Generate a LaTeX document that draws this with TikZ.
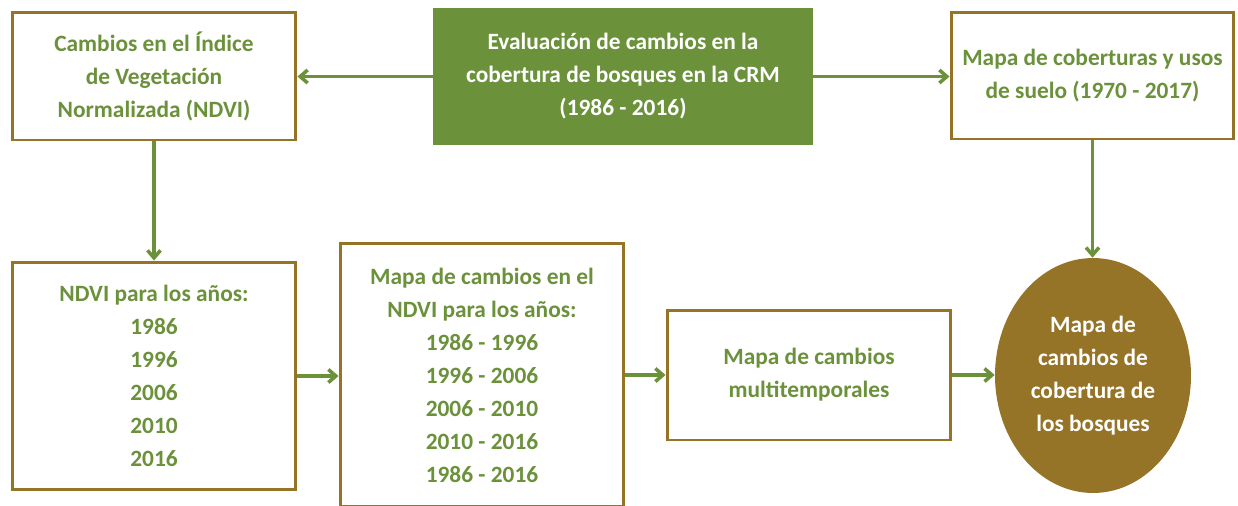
\documentclass[tikz,border=0pt]{standalone}
\usepackage{fontspec}
\setmainfont{Carlito}
\usepackage{tikz}
\usetikzlibrary{arrows.meta,positioning,shapes.geometric}
\definecolor{verde}{HTML}{6B913B}
\definecolor{cafe}{HTML}{957327}

\begin{document}
\begin{tikzpicture}[x=0.02cm, y=-0.02cm,
  font=\fontsize{13.3}{18.8}\selectfont\bfseries,
  caja/.style={draw=cafe, line width=1.7pt, fill=white, text=verde, align=center, inner sep=0pt},
  titulo/.style={fill=verde, text=white, align=center, inner sep=0pt},
  ovalo/.style={ellipse, fill=cafe, text=white, align=center, inner sep=0pt},
  flecha/.style={draw=verde, line width=2pt, -{Straight Barb[length=1.5mm,width=2.6mm]}}]
\useasboundingbox (0,0) rectangle (1238,505);
% fila de arriba
\node[titulo, minimum width=7.6cm, minimum height=2.74cm] (eval) at (623,76.5)
  {Evaluación de cambios en la\\cobertura de bosques en la CRM\\(1986 - 2016)};
\node[caja, minimum width=5.68cm, minimum height=2.56cm] (indice) at (154,76)
  {Cambios en el Índice\\de Vegetación\\Normalizada (NDVI)};
\node[caja, minimum width=5.66cm, minimum height=2.54cm] (usos) at (1092.5,75.5)
  {Mapa de coberturas y usos\\de suelo (1970 - 2017)};
% fila de abajo
\node[caja, minimum width=5.68cm, minimum height=4.56cm] (anios) at (154,376)
  {NDVI para los años:\\1986\\1996\\2006\\2010\\2016};
\node[caja, minimum width=5.68cm, minimum height=5.28cm] (mapandvi) at (482,375)
  {Mapa de cambios en el\\NDVI para los años:\\1986 - 1996\\1996 - 2006\\2006 - 2010\\2010 - 2016\\1986 - 2016};
\node[caja, minimum width=5.68cm, minimum height=2.6cm] (multi) at (809,375)
  {Mapa de cambios\\multitemporales};
\node[ovalo, minimum width=3.92cm, minimum height=4.7cm] (bosques) at (1093,375.5)
  {Mapa de\\cambios de\\cobertura de\\los bosques};
% flechas
\draw[flecha] (eval.west) -- (indice.east |- eval.west);
\draw[flecha] (eval.east) -- (usos.west |- eval.east);
\draw[flecha] (indice.south) -- (anios.north);
\draw[flecha] (usos.south) -- (usos.south |- bosques.north);
\foreach \a/\b in {anios/mapandvi, mapandvi/multi, multi/bosques}
  \draw[flecha] (\a.east) -- (\a.east -| \b.west);
\end{tikzpicture}
\end{document}
